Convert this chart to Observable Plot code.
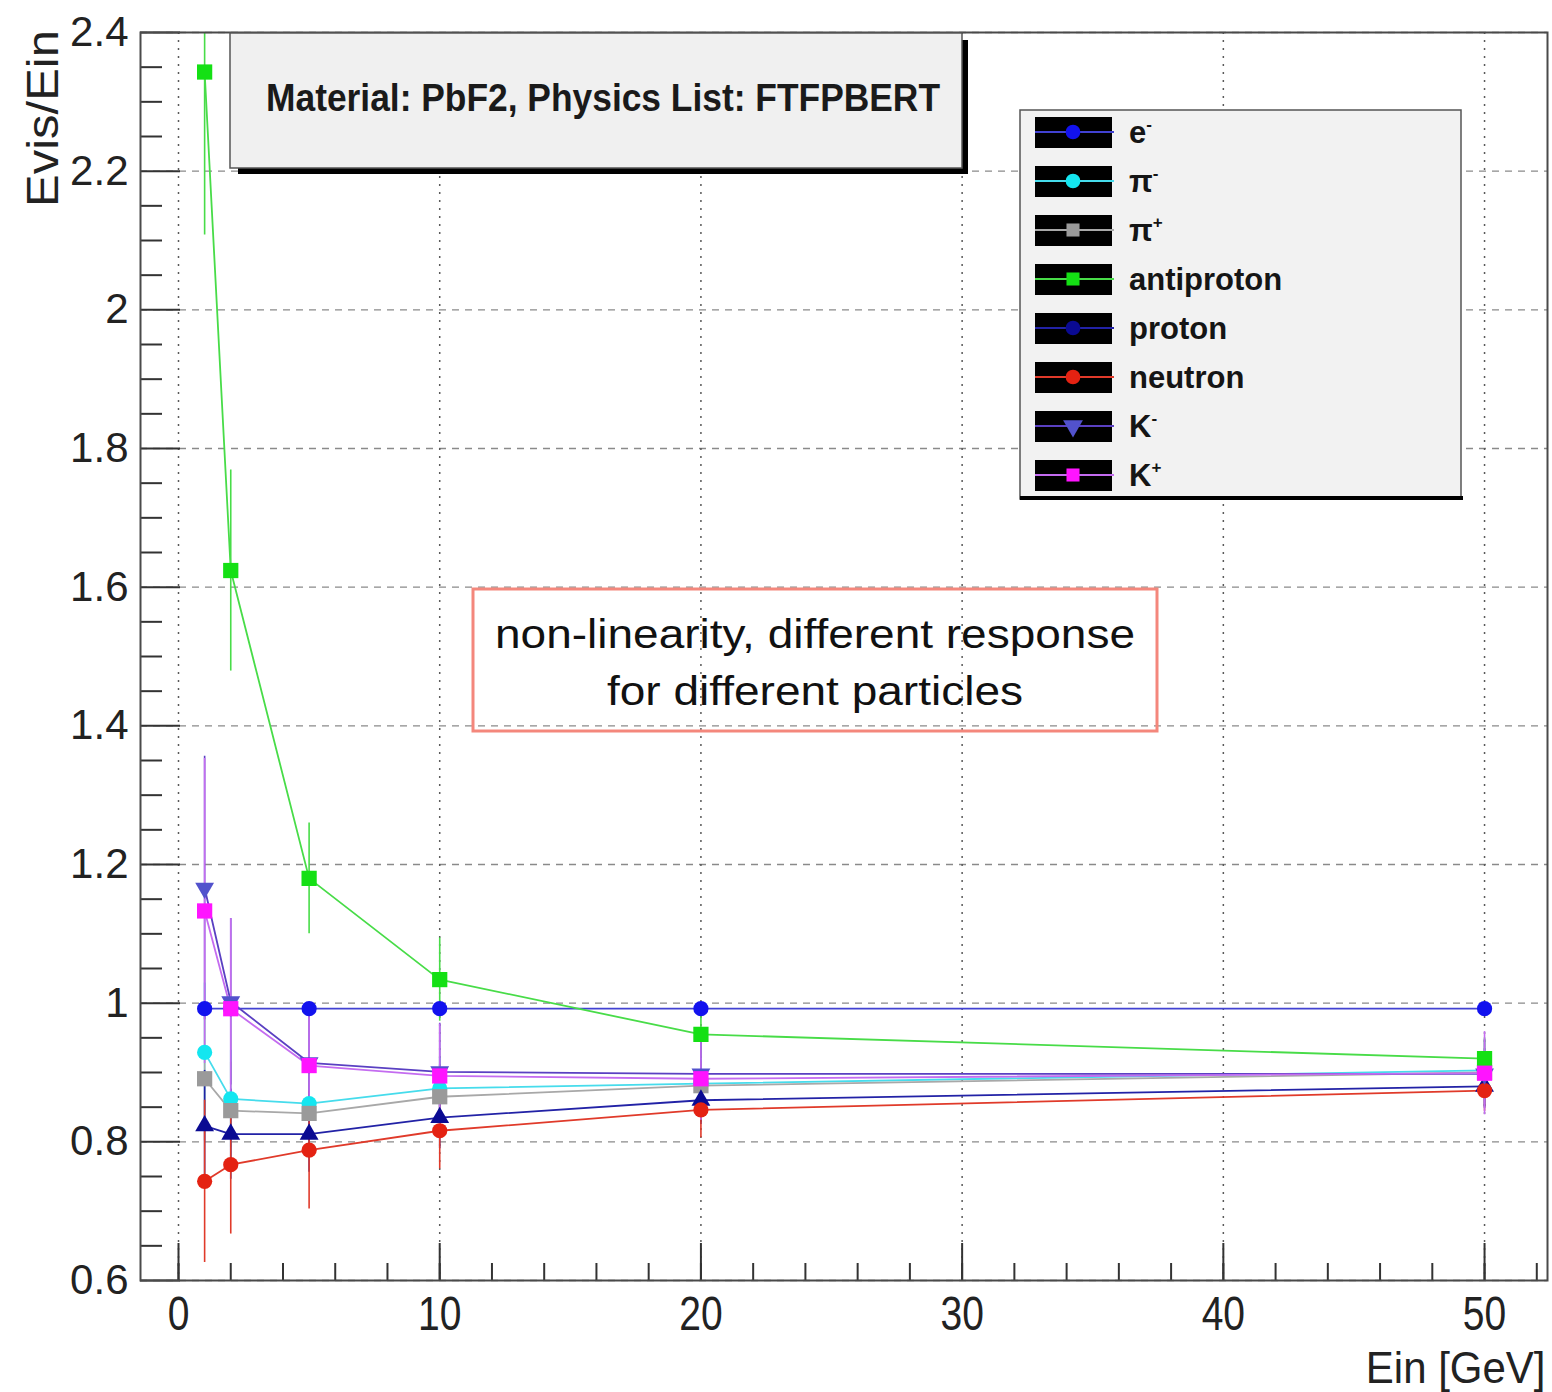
<!DOCTYPE html>
<html>
<head>
<meta charset="utf-8">
<script src="https://cdn.jsdelivr.net/npm/d3@7"></script>
<script src="https://cdn.jsdelivr.net/npm/@observablehq/plot@0.6"></script>
<style>
  body { margin: 0; background: #fff; }
  #chart { width: 1552px; height: 1392px; }
  #chart svg { display: block; }
</style>
</head>
<body>
<div id="chart"></div>
<script>
// ---------------- data ----------------
const energies = [1, 2, 5, 10, 20, 50];
const particles = ["e-", "pi-", "pi+", "antiproton", "proton", "neutron", "K-", "K+"];

const eMinus     = [0.992, 0.992, 0.992, 0.992, 0.992, 0.992];
const piMinus    = [0.929, 0.862, 0.855, 0.877, 0.884, 0.903];
const piPlus     = [0.891, 0.845, 0.841, 0.865, 0.881, 0.900];
const antiproton = [2.343, 1.624, 1.180, 1.034, 0.955, 0.920];
const proton     = [0.823, 0.811, 0.811, 0.835, 0.860, 0.880];
const neutron    = [0.743, 0.767, 0.788, 0.816, 0.846, 0.874];
const kMinus     = [1.166, 1.002, 0.914, 0.901, 0.898, 0.898];
const kPlus      = [1.133, 0.992, 0.910, 0.895, 0.891, 0.899];

const eMinusErr     = [0.004, 0.004, 0.004, 0.004, 0.004, 0.004];
const piMinusErr    = [0.10, 0.07, 0.06, 0.045, 0.035, 0.03];
const piPlusErr     = [0.09, 0.07, 0.06, 0.045, 0.035, 0.03];
const antiprotonErr = [0.235, 0.145, 0.08, 0.06, 0.035, 0.03];
const protonErr     = [0.08, 0.065, 0.055, 0.045, 0.035, 0.03];
const neutronErr    = [0.117, 0.10, 0.085, 0.055, 0.04, 0.03];
const kMinusErr     = [0.19, 0.12, 0.085, 0.07, 0.055, 0.05];
const kPlusErr      = [0.22, 0.13, 0.08, 0.075, 0.06, 0.06];

const xMajorTicks = [0, 10, 20, 30, 40, 50];
const xMinorTicks = [0, 2, 4, 6, 8, 10, 12, 14, 16, 18, 20, 22, 24, 26, 28, 30, 32, 34, 36, 38, 40, 42, 44, 46, 48, 50, 52];
const yMajorTicks = [0.6, 0.8, 1, 1.2, 1.4, 1.6, 1.8, 2, 2.2, 2.4];
const yMinorTicks = [0.65, 0.7, 0.75, 0.85, 0.9, 0.95, 1.05, 1.1, 1.15, 1.25, 1.3, 1.35, 1.45, 1.5, 1.55,
                     1.65, 1.7, 1.75, 1.85, 1.9, 1.95, 2.05, 2.1, 2.15, 2.25, 2.3, 2.35];

const titleText = "Material: PbF2, Physics List: FTFPBERT";
const noteLines = ["non-linearity, different response", "for different particles"];
const xLabel = "Ein [GeV]";
const yLabel = "Evis/Ein";

// ---------------- styles ----------------
const seriesValues = [eMinus, piMinus, piPlus, antiproton, proton, neutron, kMinus, kPlus];
const seriesErrors = [eMinusErr, piMinusErr, piPlusErr, antiprotonErr, protonErr, neutronErr, kMinusErr, kPlusErr];
const markerColors = ["#1212ee", "#14e6f0", "#9a9a9a", "#14e014", "#0a0a92", "#e42212", "#5252cc", "#ff14ff"];
const lineColors   = ["#4242d2", "#46dcec", "#a8a8a8", "#48dc48", "#2222a6", "#e03a2a", "#5a40c2", "#c46cf0"];

const triangleDown = {
  draw(ctx, size) {
    const a = Math.sqrt(4 * size / Math.sqrt(3));
    const h = a * Math.sqrt(3) / 2;
    ctx.moveTo(0, 2 * h / 3);
    ctx.lineTo(-a / 2, -h / 3);
    ctx.lineTo(a / 2, -h / 3);
    ctx.closePath();
  }
};
const plotSymbols = ["circle", "circle", "square", "square", "triangle", "circle", triangleDown, "square"];
const plotRadius  = [7.6, 7.6, 8.6, 8.6, 7, 7.6, 7, 8.6];
const legendSymbols = [d3.symbolCircle, d3.symbolCircle, d3.symbolSquare, d3.symbolSquare, d3.symbolCircle, d3.symbolCircle, triangleDown, d3.symbolSquare];

const rows = [];
particles.forEach((p, i) => {
  energies.forEach((e, j) => {
    rows.push({particle: p, idx: i, e, v: seriesValues[i][j], err: seriesErrors[i][j]});
  });
});

// ---------------- plot ----------------
const W = 1552, H = 1392;
const mTop = 32, mLeft = 140, mRight = 5, mBottom = 112;
const innerW = W - mLeft - mRight;
const innerH = H - mTop - mBottom;

const marks = [
  Plot.gridY(yMajorTicks, {stroke: "#8a8a8a", strokeOpacity: 1, strokeWidth: 1.4, strokeDasharray: "7,6"}),
  Plot.gridX(xMajorTicks, {stroke: "#5a5a5a", strokeOpacity: 1, strokeWidth: 1.5, strokeDasharray: "2,6"}),
];

particles.forEach((p, i) => {
  const d = rows.filter(r => r.idx === i);
  marks.push(Plot.ruleX(d, {x: "e", y1: r => r.v - r.err, y2: r => r.v + r.err,
    stroke: lineColors[i], strokeWidth: 1.6, clip: true}));
  marks.push(Plot.line(d, {x: "e", y: "v", stroke: lineColors[i], strokeWidth: 1.8, clip: true}));
});
particles.forEach((p, i) => {
  const d = rows.filter(r => r.idx === i);
  marks.push(Plot.dot(d, {x: "e", y: "v", symbol: plotSymbols[i], r: plotRadius[i],
    fill: markerColors[i], stroke: "none", clip: true}));
});

marks.push(
  // inward ticks
  Plot.ruleX(xMinorTicks, {stroke: "#333", strokeWidth: 2, insetTop: innerH - 17}),
  Plot.ruleX(xMajorTicks, {stroke: "#333", strokeWidth: 2, insetTop: innerH - 37}),
  Plot.ruleY(yMinorTicks, {stroke: "#333", strokeWidth: 2, insetRight: innerW - 22}),
  Plot.ruleY(yMajorTicks, {stroke: "#333", strokeWidth: 2, insetRight: innerW - 40}),
  Plot.frame({stroke: "#4a4a4a", strokeWidth: 2}),
  Plot.axisY(yMajorTicks, {tickSize: 0, tickPadding: 12, fontSize: 42, fill: "#222", label: null,
    tickFormat: d3.format("~g")}),
  Plot.axisX(xMajorTicks, {tickSize: 0, tickPadding: 49, lineAnchor: "bottom", fontSize: 39, fill: "#222", label: null}),
  Plot.text([xLabel], {frameAnchor: "bottom-right", dx: -2, dy: 102, lineAnchor: "bottom",
    textAnchor: "end", fontSize: 40, fill: "#222"})
);

const plot = Plot.plot({
  width: W,
  height: H,
  marginTop: mTop,
  marginLeft: mLeft,
  marginRight: mRight,
  marginBottom: mBottom,
  style: {background: "#fff", fontFamily: "'Liberation Sans', Arial, sans-serif", overflow: "visible"},
  x: {domain: [-1.455, 52.41], axis: null},
  y: {domain: [0.6, 2.4], axis: null},
  marks
});

document.getElementById("chart").appendChild(plot);

// vertically stretched labels like the reference
const svg = d3.select(plot);
svg.selectAll('g[aria-label="x-axis tick label"] text').each(function () {
  const t = this.getAttribute("transform") || "";
  this.setAttribute("transform", t + " scale(1,1.22)");
});
svg.selectAll('g[aria-label="text"] text').each(function () {
  const t = this.getAttribute("transform") || "";
  this.setAttribute("transform", t + " scale(1.05,1.1)");
});

// y-axis title
svg.append("text")
  .attr("transform", "translate(58,30) rotate(-90)")
  .attr("text-anchor", "end")
  .attr("font-size", 45)
  .attr("fill", "#222")
  .attr("textLength", 177)
  .attr("lengthAdjust", "spacingAndGlyphs")
  .text(yLabel);

// title box
const tb = svg.append("g");
tb.append("rect").attr("x", 238).attr("y", 166).attr("width", 730).attr("height", 8).attr("fill", "#000");
tb.append("rect").attr("x", 960).attr("y", 40).attr("width", 8).attr("height", 134).attr("fill", "#000");
tb.append("rect").attr("x", 230).attr("y", 33).attr("width", 732).attr("height", 135)
  .attr("fill", "#f0f0f0").attr("stroke", "#555").attr("stroke-width", 1.5);
tb.append("text").attr("x", 603).attr("y", 111).attr("text-anchor", "middle")
  .attr("font-size", 38).attr("font-weight", "bold").attr("fill", "#1a1a1a")
  .attr("textLength", 674).attr("lengthAdjust", "spacingAndGlyphs")
  .text(titleText);

// legend
const lg = svg.append("g");
lg.append("rect").attr("x", 1020).attr("y", 110).attr("width", 441).attr("height", 389)
  .attr("fill", "#f2f2f2").attr("stroke", "#555").attr("stroke-width", 1.5);
lg.append("rect").attr("x", 1020).attr("y", 496).attr("width", 443).attr("height", 4).attr("fill", "#000");
const legendLabels = [
  ["e", "-"], ["\u03c0", "-"], ["\u03c0", "+"], ["antiproton", ""], ["proton", ""], ["neutron", ""], ["K", "-"], ["K", "+"]
];
particles.forEach((p, i) => {
  const cy = 132 + i * 49;
  lg.append("rect").attr("x", 1035).attr("y", cy - 15).attr("width", 77).attr("height", 31).attr("fill", "#000");
  lg.append("line").attr("x1", 1035).attr("x2", 1114).attr("y1", cy).attr("y2", cy)
    .attr("stroke", lineColors[i]).attr("stroke-width", 2);
  lg.append("path").attr("transform", `translate(1073,${cy})`)
    .attr("d", d3.symbol(legendSymbols[i], 170)())
    .attr("fill", markerColors[i]);
  const t = lg.append("text").attr("x", 1129).attr("y", cy + 11).attr("text-anchor", "start")
    .attr("font-size", 31).attr("font-weight", "bold").attr("fill", "#151515");
  t.append("tspan").text(legendLabels[i][0]);
  if (legendLabels[i][1]) {
    t.append("tspan").attr("dy", -13).attr("font-size", 17).text(legendLabels[i][1]);
  }
});

// annotation box
const nb = svg.append("g");
nb.append("rect").attr("x", 473).attr("y", 589).attr("width", 684).attr("height", 142)
  .attr("fill", "none").attr("stroke", "#f4877c").attr("stroke-width", 3);
noteLines.forEach((line, i) => {
  nb.append("text").attr("x", 815).attr("y", 648 + i * 57).attr("text-anchor", "middle")
    .attr("font-size", 40).attr("fill", "#111")
    .attr("textLength", i === 0 ? 640 : 416).attr("lengthAdjust", "spacingAndGlyphs")
    .text(line);
});
</script>
</body>
</html>
